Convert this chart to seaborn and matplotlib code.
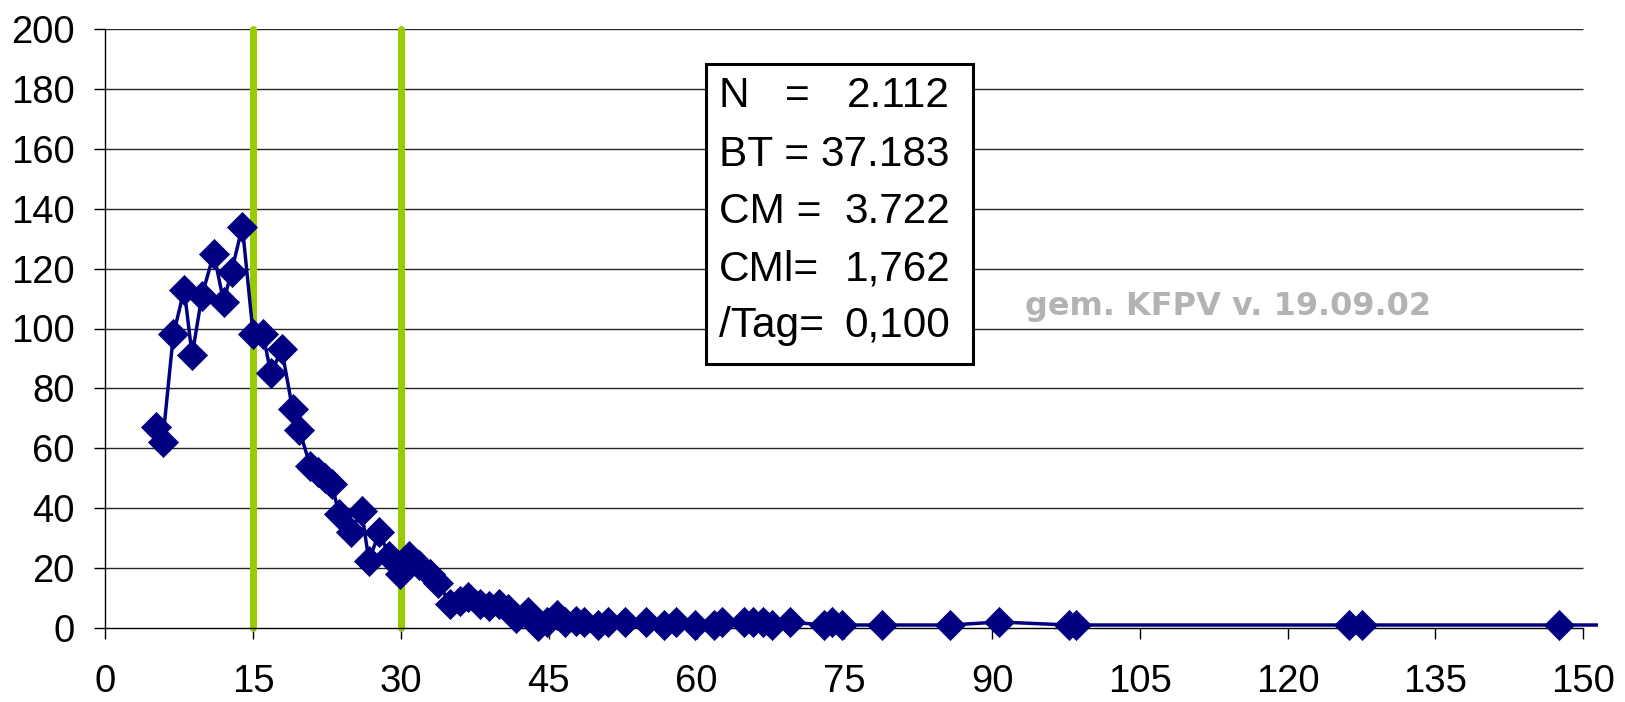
import matplotlib
matplotlib.use("Agg")
import matplotlib.pyplot as plt
import seaborn as sns
import pandas as pd
from matplotlib.patches import Rectangle

# ---- data ----
x_vals = [5.1, 5.8, 6.9, 8.0, 8.8, 9.8, 11.0, 12.0, 12.8, 13.9,
          15.0, 16.0, 16.8, 17.9, 19.0, 19.7, 20.8, 21.6, 22.3, 23.0,
          23.7, 24.9, 26.0, 26.75, 27.8, 28.8, 29.95, 30.8, 31.8, 32.9,
          33.8, 35.0, 36.0, 36.85, 38.0, 38.9, 39.9, 40.9, 41.7, 42.9,
          43.9, 44.8, 45.8, 46.6, 47.8, 48.6, 50.0, 51.0, 52.7, 54.9,
          56.7, 57.9, 59.8, 61.8, 62.6, 64.8, 65.7, 66.7, 67.7, 69.5,
          72.9, 73.7, 74.75, 78.8, 85.7, 90.75, 97.8, 98.5, 126.2, 127.5,
          147.5, 160.0]
y_vals = [67, 62, 98, 113, 91, 111, 125, 109, 119, 134,
          98, 98, 85, 93, 73, 66, 54, 52, 50, 48,
          38, 32, 39, 22.5, 32, 24, 18, 24, 21, 18,
          15, 8, 9, 10.5, 8, 7.5, 8, 6.5, 3.3, 5.4,
          0.7, 2.1, 4.3, 2.1, 2.5, 2, 1, 2, 2, 2,
          1, 2, 1, 1, 2, 2, 2, 2, 1, 2,
          1, 2, 1, 1, 1, 2, 1, 1, 1, 1,
          1, 1]

x_ticks = [0, 15, 30, 45, 60, 75, 90, 105, 120, 135, 150]
y_ticks = [0, 20, 40, 60, 80, 100, 120, 140, 160, 180, 200]
marker_lines = [15, 30]

box_labels = ["N   =", "BT =", "CM =", "CMl=", "/Tag="]
box_values = ["2.112", "37.183", "3.722", "1,762", "0,100"]
note_text = "gem. KFPV v. 19.09.02"

df = pd.DataFrame({"x": x_vals, "y": y_vals})

# ---- style ----
sns.set_theme(style="white")
plt.rcParams['font.family'] = ['Liberation Sans', 'DejaVu Sans']

W, H = 1625, 702
fig = plt.figure(figsize=(W / 100, H / 100), dpi=100)
fig.patch.set_facecolor("white")
ax = fig.add_axes([105.4 / W, 1 - 628 / H, (1598 - 105.4) / W, (628 - 29) / H])
ax.set_facecolor("white")

ax.set_xlim(0, 151.5)
ax.set_ylim(0, 200)
ax.set_xticks(x_ticks)
ax.set_yticks(y_ticks)

ax.hlines(y_ticks[1:], 0, 150, colors="#262626", lw=1.0, zorder=1)

for v in marker_lines:
    ax.plot([v, v], [0, 200], color="#99cc00", lw=5.0,
            solid_capstyle="round", clip_on=False, zorder=2)

sns.lineplot(data=df, x="x", y="y", color="#000080", lw=2.5,
             estimator=None, sort=False, ax=ax, zorder=3)
sns.scatterplot(data=df[df.x <= 150], x="x", y="y", marker="D", s=235,
                color="#000080", edgecolor="#000080", linewidth=0.5,
                ax=ax, zorder=4, clip_on=False)

for s in ["top", "right"]:
    ax.spines[s].set_visible(False)
for s in ["left", "bottom"]:
    ax.spines[s].set_color("black")
    ax.spines[s].set_linewidth(1.0)
ax.spines["bottom"].set_bounds(0, 150)

ax.tick_params(axis="both", direction="out", length=8, width=1,
               color="black", labelsize=27.5, labelcolor="black",
               bottom=True, left=True)
ax.tick_params(axis="x", pad=18)
ax.tick_params(axis="y", pad=14)
ax.set_xlabel("")
ax.set_ylabel("")

# ---- text box ----
rect = Rectangle((705.7 / W, 1 - 364 / H), (972.7 - 705.7) / W, (364 - 64) / H,
                 transform=fig.transFigure, facecolor="white",
                 edgecolor="black", lw=2.2, zorder=5)
fig.add_artist(rect)
baselines = [106.7, 166, 223.3, 280.7, 336.7]
for lab, val, yb in zip(box_labels, box_values, baselines):
    fig.text(719 / W, 1 - yb / H, lab, fontsize=30.5, va="baseline",
             ha="left", color="black", zorder=6)
    fig.text(950 / W, 1 - yb / H, val, fontsize=30.5, va="baseline",
             ha="right", color="black", zorder=6)

fig.text(1025 / W, 1 - 315 / H, note_text, family=["DejaVu Sans"],
         weight="bold", color="#b3b3b3", fontsize=23, va="baseline",
         ha="left", zorder=6)

fig.savefig("out.png", dpi=100, facecolor="white")
